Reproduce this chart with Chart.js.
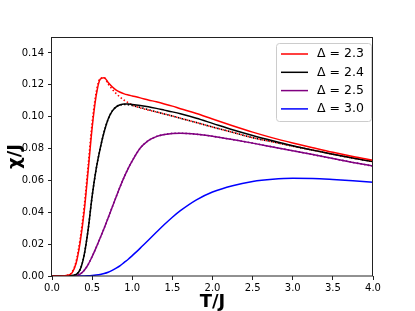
<!DOCTYPE html>
<html>
<head>
<meta charset="utf-8">
<script src="https://cdn.jsdelivr.net/npm/chart.js@4"></script>
<style>
html,body{margin:0;padding:0;background:#fff;}
#wrap{width:415px;height:311px;position:relative;}
</style>
</head>
<body>
<div id="wrap"><canvas id="c" width="415" height="311"></canvas></div>
<script>
const T = [0, 0.1, 0.2, 0.25, 0.3, 0.35, 0.4, 0.45, 0.5, 0.55, 0.6, 0.65, 0.7, 0.75, 0.8, 0.85, 0.9, 0.95, 1.0, 1.1, 1.2, 1.3, 1.4, 1.5, 1.6, 1.8, 2.0, 2.25, 2.5, 2.75, 3.0, 3.25, 3.5, 3.75, 4.0];
const chi23 = [0, 0, 0.0005, 0.002, 0.008, 0.021, 0.040, 0.066, 0.093, 0.113, 0.1235, 0.1245, 0.1215, 0.1188, 0.1167, 0.1153, 0.1143, 0.1136, 0.113, 0.1118, 0.1105, 0.1093, 0.108, 0.1066, 0.105, 0.102, 0.0985, 0.0943, 0.0903, 0.0867, 0.0835, 0.0805, 0.0776, 0.075, 0.0727];
const chi24 = [0, 0, 0, 0.0003, 0.001, 0.004, 0.013, 0.029, 0.050, 0.067, 0.080, 0.0905, 0.0985, 0.1035, 0.1062, 0.1075, 0.108, 0.108, 0.1077, 0.107, 0.1062, 0.1052, 0.1041, 0.103, 0.1018, 0.099, 0.0958, 0.0918, 0.0882, 0.0849, 0.0818, 0.079, 0.0764, 0.074, 0.0718];
const chi25 = [0, 0, 0, 0, 0.0003, 0.0012, 0.0035, 0.0072, 0.0122, 0.0178, 0.0238, 0.030, 0.0365, 0.0432, 0.0498, 0.0562, 0.0622, 0.0676, 0.0723, 0.0803, 0.085, 0.0875, 0.0888, 0.0895, 0.0896, 0.089, 0.0877, 0.0856, 0.0834, 0.081, 0.0786, 0.0762, 0.0737, 0.0713, 0.069];
const chi30 = [0, 0, 0, 0, 0, 0, 0, 0.0001, 0.0003, 0.0006, 0.001, 0.0016, 0.0024, 0.0035, 0.0049, 0.0065, 0.0085, 0.0105, 0.0128, 0.0175, 0.0224, 0.0274, 0.0323, 0.0369, 0.041, 0.0478, 0.0527, 0.0567, 0.0593, 0.0607, 0.0613, 0.0612, 0.0606, 0.0598, 0.0589];
const chi23dot = [0, 0, 0.0006, 0.0025, 0.009, 0.023, 0.043, 0.069, 0.096, 0.115, 0.124, 0.1245, 0.1205, 0.1172, 0.1145, 0.1122, 0.1103, 0.1087, 0.1073, 0.1055, 0.1041, 0.103, 0.1017, 0.1004, 0.099, 0.0963, 0.0935, 0.0902, 0.0868, 0.0842, 0.0815, 0.079, 0.0764, 0.074, 0.0718];
const chi24dot = [0, 0, 0, 0.0003, 0.001, 0.004, 0.013, 0.029, 0.050, 0.067, 0.080, 0.0905, 0.0985, 0.1035, 0.1062, 0.1073, 0.1076, 0.1075, 0.107, 0.1058, 0.1044, 0.103, 0.1017, 0.1004, 0.099, 0.0963, 0.0935, 0.0902, 0.0868, 0.0842, 0.0815, 0.079, 0.0764, 0.074, 0.0718];
const chi25dot = chi25.slice();
const seriesLabels = ['Δ = 2.3', 'Δ = 2.4', 'Δ = 2.5', 'Δ = 3.0'];
const xTicks = [0, 0.5, 1.0, 1.5, 2.0, 2.5, 3.0, 3.5, 4.0];
const yTicks = [0, 0.02, 0.04, 0.06, 0.08, 0.10, 0.12, 0.14];

const pts = arr => T.map((t, i) => ({x: t, y: arr[i]}));
const FONT = "'DejaVu Sans', sans-serif";

function ds(arr, color, dotted, label) {
  return {
    data: pts(arr), borderColor: color, borderWidth: dotted ? 1.6 : 1.5,
    borderDash: dotted ? [1.5, 2.2] : [], pointRadius: 0, fill: false,
    cubicInterpolationMode: 'monotone', legendLabel: label || null
  };
}

const frameLegend = {
  id: 'frameLegend',
  afterDraw(chart) {
    const ctx = chart.ctx, a = chart.chartArea;
    ctx.save();
    ctx.strokeStyle = '#222'; ctx.lineWidth = 1;
    ctx.strokeRect(Math.round(a.left) - 0.5, Math.round(a.top) + 0.5, Math.round(a.right - a.left), Math.round(a.bottom - a.top) - 0.5);
    const items = chart.data.datasets.filter(d => d.legendLabel);
    const bx = 276.5, by = 43.5, bw = 95, bh = 78, r = 3;
    ctx.fillStyle = 'rgba(255,255,255,0.8)';
    ctx.strokeStyle = '#cccccc';
    ctx.beginPath();
    ctx.moveTo(bx + r, by); ctx.lineTo(bx + bw - r, by); ctx.arcTo(bx + bw, by, bx + bw, by + r, r);
    ctx.lineTo(bx + bw, by + bh - r); ctx.arcTo(bx + bw, by + bh, bx + bw - r, by + bh, r);
    ctx.lineTo(bx + r, by + bh); ctx.arcTo(bx, by + bh, bx, by + bh - r, r);
    ctx.lineTo(bx, by + r); ctx.arcTo(bx, by, bx + r, by, r);
    ctx.closePath(); ctx.fill(); ctx.stroke();
    ctx.font = '12.5px ' + FONT; ctx.textBaseline = 'middle'; ctx.textAlign = 'left';
    items.forEach((d, i) => {
      const y = 54 + i * 18.3;
      ctx.strokeStyle = d.borderColor; ctx.lineWidth = 1.5; ctx.setLineDash([]);
      ctx.beginPath(); ctx.moveTo(281, y); ctx.lineTo(308, y); ctx.stroke();
      ctx.fillStyle = '#000';
      ctx.fillText(d.legendLabel, 317, y);
    });
    ctx.restore();
  }
};

new Chart(document.getElementById('c'), {
  type: 'line',
  data: {
    datasets: [
      ds(chi23, '#ff0000', false, seriesLabels[0]),
      ds(chi24, '#000000', false, seriesLabels[1]),
      ds(chi25, '#800080', false, seriesLabels[2]),
      ds(chi30, '#0000ff', false, seriesLabels[3]),
      ds(chi23dot, '#ff0000', true),
      ds(chi24dot, '#000000', true),
      ds(chi25dot, '#800080', true)
    ]
  },
  options: {
    responsive: false, animation: false,
    layout: {padding: {left: 0, top: 37, right: 42, bottom: 0}},
    plugins: {legend: {display: false}, tooltip: {enabled: false}},
    scales: {
      x: {
        type: 'linear', min: 0, max: 4,
        afterFit(s) { s.height = 35; },
        afterBuildTicks(s) { s.ticks = xTicks.map(v => ({value: v})); },
        ticks: {callback: v => v.toFixed(1), font: {family: FONT, size: 10}, color: '#000', padding: 2, maxRotation: 0, autoSkip: false},
        grid: {display: true, drawOnChartArea: false, drawTicks: true, tickLength: 4, color: '#222'},
        border: {display: false},
        title: {display: true, text: 'T/J', font: {family: FONT, size: 18, weight: 'bold', lineHeight: 1}, color: '#000', padding: {top: 0, bottom: 0}}
      },
      y: {
        type: 'linear', min: 0, max: 0.15,
        afterFit(s) { s.width = 52; },
        afterBuildTicks(s) { s.ticks = yTicks.map(v => ({value: v})); },
        ticks: {callback: v => v.toFixed(2), font: {family: FONT, size: 10}, color: '#000', padding: 4},
        grid: {display: true, drawOnChartArea: false, drawTicks: true, tickLength: 4, color: '#222'},
        border: {display: false},
        title: {display: true, text: 'χ/J', font: {family: FONT, size: 18, weight: 'bold', lineHeight: 1}, color: '#000', padding: {top: 6, bottom: 0}}
      }
    }
  },
  plugins: [frameLegend]
});
</script>
</body>
</html>
